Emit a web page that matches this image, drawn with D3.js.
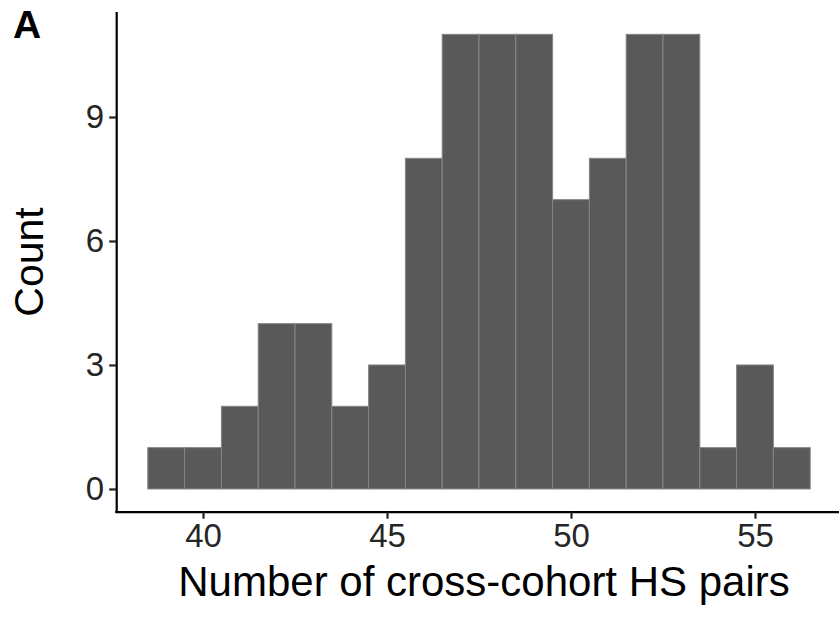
<!DOCTYPE html>
<html><head><meta charset="utf-8">
<script src="https://cdn.jsdelivr.net/npm/d3@7"></script>
<style>body{margin:0;background:#fff}svg{display:block}</style>
</head><body>
<svg id="c" width="839" height="624"></svg>
<script>
const binCenters = [39,40,41,42,43,44,45,46,47,48,49,50,51,52,53,54,55,56];
const counts =     [1, 1, 2, 4, 4, 2, 3, 8, 11,11,11,7, 8, 11,11,1, 3, 1];
const xTicks = [40,45,50,55];
const yTicks = [0,3,6,9];
const binWidth = 1;

const svg = d3.select("#c");
const x = d3.scaleLinear().domain([37.6, 57.4]).range([114.7, 843.3]);
const y = d3.scaleLinear().domain([-0.55, 11.55]).range([511.7, 11.6]);
const FONT = "Liberation Sans, Arial, sans-serif";

svg.append("g").selectAll("rect").data(binCenters).join("rect")
  .attr("x", (d)=>x(d-binWidth/2))
  .attr("width", (d)=>x(d+binWidth/2)-x(d-binWidth/2))
  .attr("y", (d,i)=>y(counts[i]))
  .attr("height", (d,i)=>y(0)-y(counts[i]))
  .attr("fill", "#595959")
  .attr("stroke", "#858585")
  .attr("stroke-width", 1);

const xa = svg.append("g").attr("transform", `translate(0,${y(-0.55)})`)
  .call(d3.axisBottom(x).tickValues(xTicks).tickSize(7).tickSizeOuter(0).tickPadding(5));
const ya = svg.append("g").attr("transform", `translate(${x(37.6)+1.5},0)`)
  .call(d3.axisLeft(y).tickValues(yTicks).tickSize(7).tickSizeOuter(0).tickPadding(5));
[xa, ya].forEach(a=>{
  a.selectAll(".domain").attr("stroke","#000").attr("stroke-width",2.2);
  a.selectAll(".tick line").attr("stroke","#222").attr("stroke-width",2.2);
  a.selectAll("text").attr("font-family",FONT)
    .attr("font-size",33).attr("fill","#262626");
});

svg.append("text").attr("x", 484).attr("y", 596)
  .attr("text-anchor","middle").attr("font-family",FONT)
  .attr("font-size",42).attr("fill","#000").text("Number of cross-cohort HS pairs");
svg.append("text").attr("transform", `translate(43,262) rotate(-90)`)
  .attr("text-anchor","middle").attr("font-family",FONT)
  .attr("font-size",41).attr("fill","#000").text("Count");
svg.append("text").attr("x", 13).attr("y", 38)
  .attr("font-family",FONT).attr("font-weight","bold")
  .attr("font-size",39).attr("fill","#000").text("A");
</script>
</body></html>
